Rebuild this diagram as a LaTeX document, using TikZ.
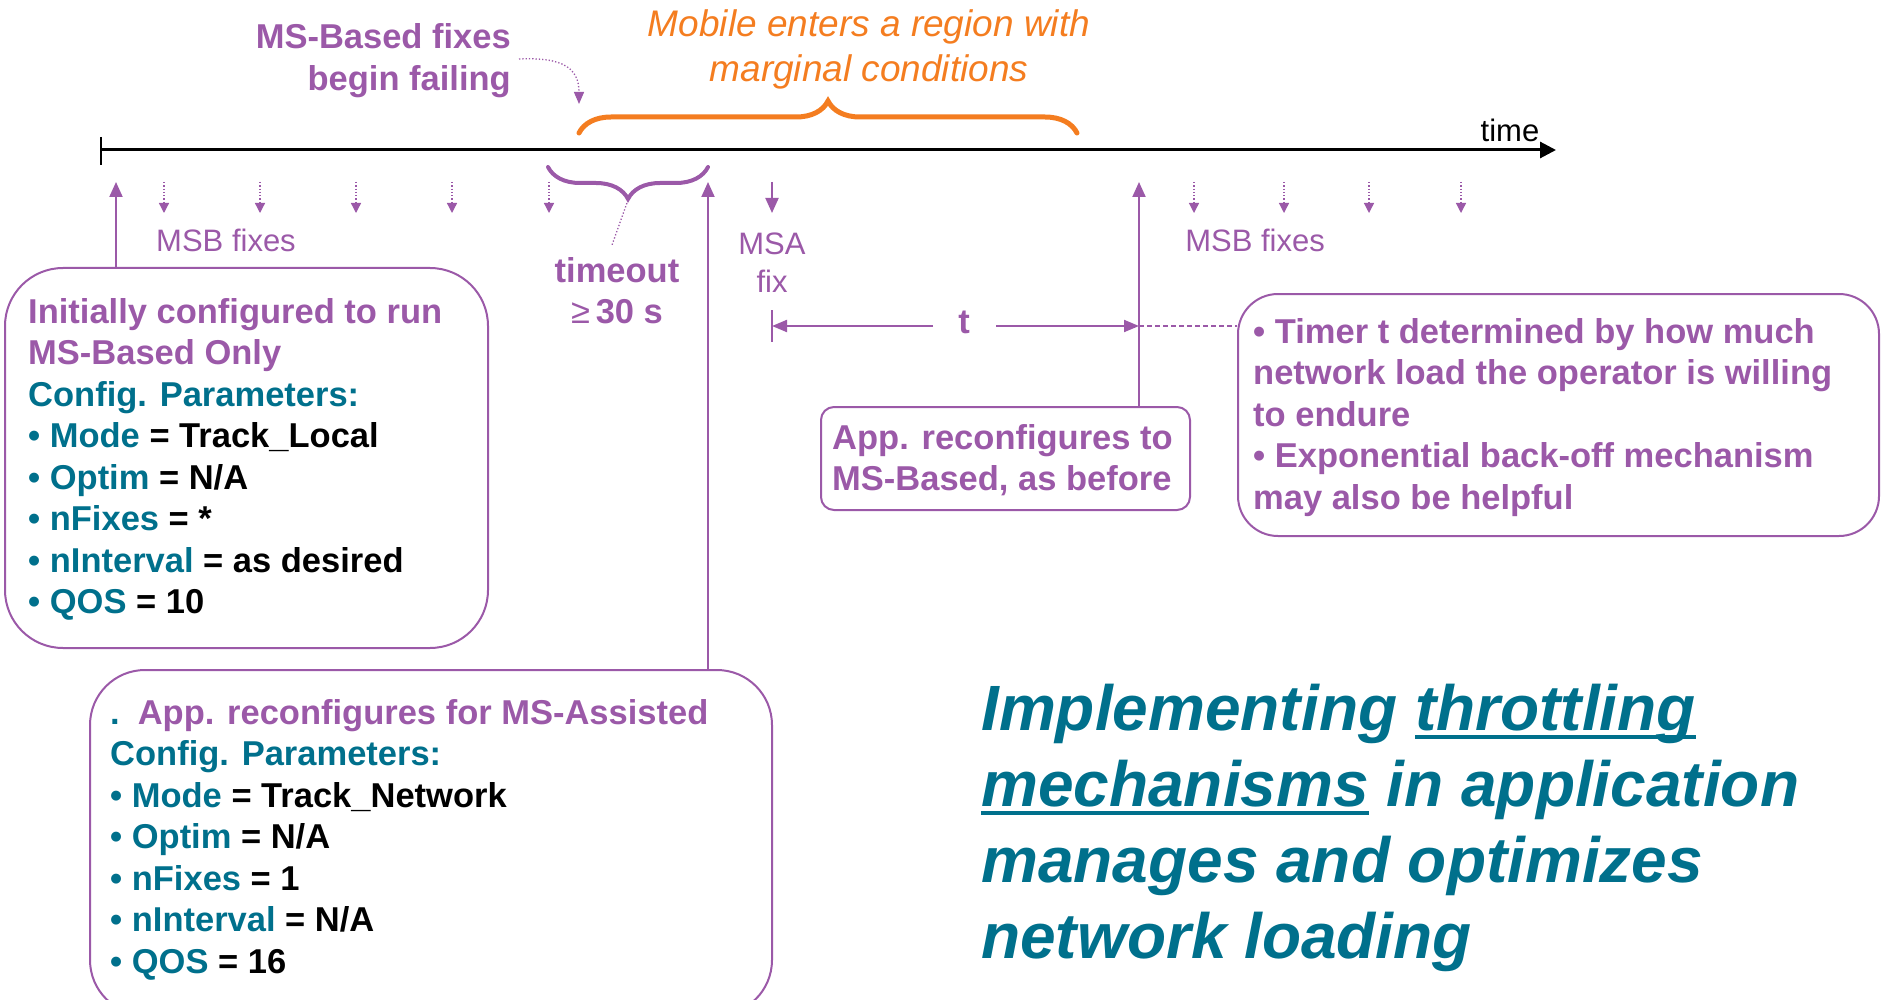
\documentclass[tikz,border=0pt]{standalone}
\usepackage{fontspec}
\setmainfont{Liberation Sans}
\usetikzlibrary{arrows.meta,decorations.pathreplacing}
\definecolor{mspurple}{RGB}{155,89,168}
\definecolor{msteal}{RGB}{0,112,140}
\definecolor{msorange}{RGB}{244,125,32}
\newcommand\ulbar[1]{\setbox0\hbox{#1}\rlap{\color{msteal}\rule[-9pt]{\wd0}{4pt}}\box0\relax}
\tikzset{
  pbold/.style={font=\fontsize{34.5}{41.5}\selectfont\bfseries, text=mspurple, inner sep=0pt, align=left},
  preg/.style={font=\fontsize{31}{38}\selectfont, text=mspurple, inner sep=0pt},
  boxline/.style={draw=mspurple, line width=2pt},
  solidarrow/.style={draw=mspurple, line width=2pt, -{Triangle[length=15pt,width=13pt]}},
  dotarrow/.style={draw=mspurple, line width=1.3pt, dotted, -{Triangle[length=10pt,width=10pt]}},
}
\begin{document}
\begin{tikzpicture}[x=1pt,y=-1pt]
\useasboundingbox (0,0) rectangle (1881,1000);

% timeline
\coordinate (t0) at (101,150);
\coordinate (tend) at (1556,150);
\draw[line width=3pt, -{Triangle[length=16pt,width=16pt]}] (t0) -- (tend);
\draw[line width=2pt] (101,137) -- (101,165);
\node[preg, text=black, anchor=base] (timelab) at (1510,142) {time};

% orange brace and text
\draw[msorange, line width=5pt, line cap=round, decorate, decoration={brace, amplitude=32pt}] (579,133) -- (1077,133);
\node[font=\fontsize{37}{45}\selectfont\itshape, text=msorange, inner sep=0pt, align=center, anchor=base] (mobtext) at (869,82) {Mobile enters a region with\\marginal conditions};

% MS-Based fixes begin failing
\node[font=\fontsize{34.5}{42}\selectfont\bfseries, text=mspurple, inner sep=0pt, align=right, anchor=base east] (failtext) at (511,91) {MS-Based fixes\\begin failing};
\coordinate (failstart) at (519,59);
\coordinate (failend) at (579,104);
\draw[mspurple, line width=1.3pt, dotted, -{Triangle[length=12pt,width=10pt]}] (failstart) .. controls (563,57) and (579,68) .. (failend);

% timeout brace
\draw[mspurple, line width=4pt, line cap=round, decorate, decoration={brace, amplitude=32pt}] (708,167) -- (548,167);
\node[pbold, align=center, anchor=base] (timeoutlab) at (617,323.5) {timeout\\{\mdseries ≥}\,30 s};
\coordinate (bracetip) at (628,200);
\coordinate (timeoutend) at (612,245);
\draw[mspurple, line width=1.3pt, dotted] (bracetip) -- (timeoutend);

% dotted MSB fix arrows
\foreach \x in {164,260,356,452,549,1194,1284,1369,1461}
  \draw[dotarrow] (\x,182) -- (\x,213);
\node[preg, anchor=base] (msb1) at (226,252) {MSB fixes};
\node[preg, anchor=base] (msb2) at (1255,252) {MSB fixes};

% MSA fix
\coordinate (msatop) at (772,182);
\coordinate (msabot) at (772,213);
\draw[solidarrow] (msatop) -- (msabot);
\node[preg, align=center, anchor=base] (msalab) at (772,292) {MSA\\fix};

% boxes
\node[boxline, rounded corners=58pt, minimum width=483pt, minimum height=380pt, anchor=north west, inner sep=0pt] (initbox) at (4,267) {};
\node[boxline, rounded corners=55pt, minimum width=682pt, minimum height=345pt, anchor=north west, inner sep=0pt] (asstbox) at (89,669) {};
\node[boxline, rounded corners=13pt, minimum width=369pt, minimum height=103pt, anchor=north west, inner sep=0pt] (appbox) at (820,406) {};
\node[boxline, rounded corners=40pt, minimum width=641pt, minimum height=242pt, anchor=north west, inner sep=0pt] (notebox) at (1237,293) {};

% up arrows from boxes
\coordinate (upA) at (116,182);
\coordinate (upB) at (708,182);
\coordinate (upC) at (1139,182);
\draw[solidarrow] (initbox.north -| upA) -- (upA);
\draw[solidarrow] (asstbox.north -| upB) -- (upB);
\draw[solidarrow] (appbox.north -| upC) -- (upC);

% t dimension
\coordinate (ttick) at (772,326);
\coordinate (tright) at (1139,326);
\draw[mspurple, line width=2pt] (772,310) -- (772,342);
\node[pbold, anchor=base] (tlab) at (964,333) {t};
\draw[mspurple, line width=2pt, -{Triangle[length=15pt,width=12pt]}] (933,326) -- (ttick);
\draw[mspurple, line width=2pt, -{Triangle[length=15pt,width=12pt]}] (996,326) -- (tright);
\draw[mspurple, line width=1.2pt, dash pattern=on 5pt off 3pt] (tright) -- (notebox.west |- tright);

% box texts (base anchor = last line)
\node[pbold, anchor=base west] (inittext) at (28,613.5) {Initially configured to run\\
MS-Based Only\\
\textcolor{msteal}{Config. Parameters:}\\
\textcolor{msteal}{• Mode} \textcolor{black}{= Track\_Local}\\
\textcolor{msteal}{• Optim} \textcolor{black}{= N/A}\\
\textcolor{msteal}{• nFixes} \textcolor{black}{= *}\\
\textcolor{msteal}{• nInterval} \textcolor{black}{= as desired}\\
\textcolor{msteal}{• QOS} \textcolor{black}{= 10}};

\node[pbold, anchor=base west] (assttext) at (110,973) {\textcolor{msteal}{.}\hspace{18pt}App. reconfigures for MS-Assisted\\
\textcolor{msteal}{Config. Parameters:}\\
\textcolor{msteal}{• Mode} \textcolor{black}{= Track\_Network}\\
\textcolor{msteal}{• Optim} \textcolor{black}{= N/A}\\
\textcolor{msteal}{• nFixes} \textcolor{black}{= 1}\\
\textcolor{msteal}{• nInterval} \textcolor{black}{= N/A}\\
\textcolor{msteal}{• QOS} \textcolor{black}{= 16}};

\node[pbold, anchor=base west] (apptext) at (832,490.5) {App. reconfigures to\\MS-Based, as before};

\node[pbold, anchor=base west] (notetext) at (1253,509) {• Timer t determined by how much\\
network load the operator is willing\\
to endure\\
• Exponential back-off mechanism\\
may also be helpful};

% title
\node[font=\fontsize{64}{76}\selectfont\bfseries\itshape, text=msteal, inner sep=0pt, align=left, anchor=base west] (title) at (981,958) {Implementing \ulbar{throttling}\\
\ulbar{mechanisms} in application\\
manages and optimizes\\
network loading};
\end{tikzpicture}
\end{document}
